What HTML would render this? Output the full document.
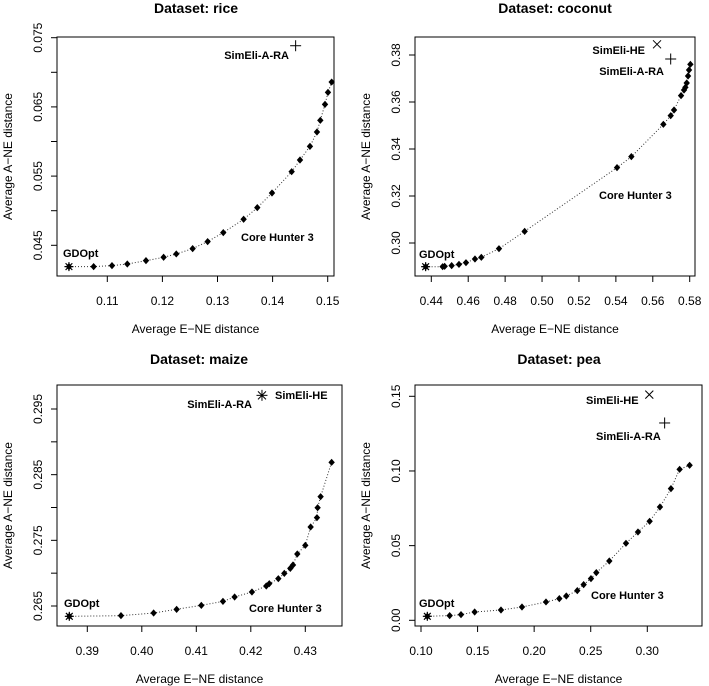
<!DOCTYPE html>
<html><head><meta charset="utf-8"><style>
html,body{margin:0;padding:0;background:#fff;}
svg{display:block;font-family:"Liberation Sans",Arial,sans-serif;}
</style></head><body>
<svg id="chart" width="709" height="686" viewBox="0 0 709 686" xmlns="http://www.w3.org/2000/svg"></svg>
<script>
// ---- data ----
const riceX=[0.10304,0.10752,0.11085,0.11363,0.11702,0.12022,0.12252,0.12549,0.12821,0.13105,0.13474,0.13722,0.13989,0.14346,0.14497,0.14678,0.14805,0.14866,0.14951,0.15005,0.15072];
const riceY=[0.04192,0.04192,0.04206,0.04230,0.04278,0.04327,0.04375,0.04452,0.04553,0.04683,0.04876,0.05044,0.05256,0.05564,0.05733,0.05930,0.06137,0.06306,0.06537,0.06710,0.06859];
const riceSimARA=[0.14418,0.07384];
const riceXTicks=[0.11,0.12,0.13,0.14,0.15];
const riceYTicks=[0.045,0.05,0.055,0.06,0.065,0.07,0.075];
const riceYLabels=["0.045","","0.055","","0.065","","0.075"];

const cocoX=[0.43693,0.44614,0.44723,0.45102,0.45499,0.45879,0.46366,0.46710,0.47667,0.49058,0.54062,0.54839,0.56573,0.56971,0.57151,0.57531,0.57693,0.57766,0.57838,0.57910,0.57964,0.58037];
const cocoY=[0.28993,0.28993,0.29007,0.29036,0.29092,0.29163,0.29319,0.29390,0.29759,0.30496,0.33206,0.33674,0.35050,0.35418,0.35660,0.36270,0.36511,0.36624,0.36809,0.37106,0.37362,0.37603];
const cocoSimHE=[0.5623,0.38454];
const cocoSimARA=[0.5697,0.37830];
const cocoXTicks=[0.44,0.46,0.48,0.50,0.52,0.54,0.56,0.58];
const cocoYTicks=[0.30,0.32,0.34,0.36,0.38];
const cocoYLabels=["0.30","0.32","0.34","0.36","0.38"];

const maizeX=[0.38670,0.39618,0.40217,0.40639,0.41092,0.41489,0.41703,0.42021,0.42284,0.42339,0.42505,0.42615,0.42725,0.42774,0.42853,0.43000,0.43098,0.43214,0.43226,0.43281,0.43483];
const maizeY=[0.26343,0.26353,0.26393,0.26449,0.26510,0.26570,0.26637,0.26713,0.26805,0.26840,0.26916,0.26997,0.27073,0.27124,0.27292,0.27424,0.27703,0.27845,0.27997,0.28165,0.28688];
const maizeSimHE=[0.42205,0.29708];
const maizeSimARA=[0.42205,0.29708];
const maizeXTicks=[0.39,0.40,0.41,0.42,0.43];
const maizeYTicks=[0.265,0.27,0.275,0.28,0.285,0.29,0.295];
const maizeYLabels=["0.265","","0.275","","0.285","","0.295"];

const peaX=[0.1056,0.12533,0.13535,0.14742,0.17069,0.18925,0.21046,0.22224,0.22842,0.23814,0.24374,0.25022,0.25493,0.26642,0.28115,0.29175,0.30206,0.31119,0.32091,0.32857,0.33740];
const peaY=[0.00268,0.00313,0.00380,0.00558,0.00692,0.00893,0.01228,0.01451,0.01629,0.01987,0.02388,0.02790,0.03192,0.03973,0.05156,0.05915,0.06629,0.07589,0.08817,0.10110,0.10379];
const peaSimHE=[0.30177,0.15112];
const peaSimARA=[0.31532,0.13214];
const peaXTicks=[0.10,0.15,0.20,0.25,0.30];
const peaYTicks=[0.00,0.05,0.10,0.15];
const peaYLabels=["0.00","0.05","0.10","0.15"];

const NS="http://www.w3.org/2000/svg";
const svg=document.getElementById('chart');
function mk(tag,attrs,parent){const e=document.createElementNS(NS,tag);for(const k in attrs)e.setAttribute(k,attrs[k]);(parent||svg).appendChild(e);return e;}
function txt(parent,x,y,s,opt){const t=mk('text',Object.assign({x:x,y:y,'font-size':12,fill:'#000'},opt||{}),parent);t.textContent=s;return t;}

function panel(c){
  const g=mk('g',{});
  
  
  const sx=v=>c.px0+(v-c.vx0)/(c.vx1-c.vx0)*(c.px1-c.px0);
  const sy=v=>c.py0+(v-c.vy0)/(c.vy1-c.vy0)*(c.py1-c.py0);
  const box=mk('rect',{x:c.bl,y:c.bt,width:c.br-c.bl,height:c.bb-c.bt,fill:'none',stroke:'#000','stroke-width':1},g);
  
  
  const t=txt(g,c.tx,c.ty,'Dataset: '+c.name,{'font-size':14,'font-weight':'bold','text-anchor':'middle'});
  
  
  // x axis
  const xa=mk('g',{},g);
  
  
  mk('line',{x1:sx(c.xt[0]),x2:sx(c.xt[c.xt.length-1]),y1:c.bb,y2:c.bb,stroke:'#000'},xa);
  c.xt.forEach((v,i)=>{
    const x=sx(v);
    mk('line',{x1:x,x2:x,y1:c.bb,y2:c.bb+6,stroke:'#000'},xa);
    const l=txt(xa,x,c.bb+29,v.toFixed(c.xd),{'text-anchor':'middle'});
    
    
  });
  const xt=txt(g,(c.bl+c.br)/2,c.bb+57,'Average E\u2212NE distance',{'text-anchor':'middle'});
  
  
  // y axis
  const ya=mk('g',{},g);
  
  
  mk('line',{y1:sy(c.yt[0]),y2:sy(c.yt[c.yt.length-1]),x1:c.bl,x2:c.bl,stroke:'#000'},ya);
  c.yt.forEach((v,i)=>{
    const y=sy(v);
    mk('line',{x1:c.bl-6,x2:c.bl,y1:y,y2:y,stroke:'#000'},ya);
    if(c.yl[i]){
      const l=txt(ya,0,0,c.yl[i],{'text-anchor':'middle',transform:`translate(${c.bl-15},${y}) rotate(-90)`});
      
      
    }
  });
  const yt=txt(g,0,0,'Average A\u2212NE distance',{'text-anchor':'middle',transform:`translate(${c.bl-45},${(c.bt+c.bb)/2}) rotate(-90)`});
  
  
  // line
  const pts=c.X.map((v,i)=>sx(v).toFixed(1)+','+sy(c.Y[i]).toFixed(1)).join(' ');
  const pl=mk('polyline',{points:pts,fill:'none',stroke:'#333','stroke-width':1,'stroke-dasharray':'1,2'},g);
  
  
  c.X.forEach((v,i)=>{
    const x=sx(v),y=sy(c.Y[i]);
    const d=mk('polygon',{points:`${x},${y-3.6} ${x+3.2},${y} ${x},${y+3.6} ${x-3.2},${y}`,fill:'#000'},g);
    
    
  });
  // GDOpt star
  {const x=sx(c.X[0]),y=sy(c.Y[0]),r=4.5;
   const s=mk('g',{stroke:'#000','stroke-width':1.2},g);
   
   
   mk('line',{x1:x-r,x2:x+r,y1:y,y2:y},s);mk('line',{x1:x,x2:x,y1:y-r,y2:y+r},s);
   mk('line',{x1:x-r*.75,x2:x+r*.75,y1:y-r*.75,y2:y+r*.75},s);mk('line',{x1:x-r*.75,x2:x+r*.75,y1:y+r*.75,y2:y-r*.75},s);}
  if(c.he){const x=sx(c.he[0]),y=sy(c.he[1]),r=4;
   const s=mk('g',{stroke:'#000','stroke-width':1},g);
   
   
   mk('line',{x1:x-r,x2:x+r,y1:y-r,y2:y+r},s);mk('line',{x1:x-r,x2:x+r,y1:y+r,y2:y-r},s);}
  if(c.ara){const x=sx(c.ara[0]),y=sy(c.ara[1]),r=5.5;
   const s=mk('g',{stroke:'#000','stroke-width':1},g);
   
   
   mk('line',{x1:x-r,x2:x+r,y1:y,y2:y},s);mk('line',{x1:x,x2:x,y1:y-r,y2:y+r},s);}
  c.labels.forEach(L=>{
    const l=txt(g,L[1],L[2],L[0],{'font-size':11,'font-weight':'bold','text-anchor':L[3]});
    
    
  });
}

panel({name:'rice',X:riceX,Y:riceY,ara:riceSimARA,xt:riceXTicks,yt:riceYTicks,yl:riceYLabels,xd:2,
  bl:57,br:334,bt:37,bb:276,px0:107.3,px1:327.7,vx0:0.11,vx1:0.15,py0:245.3,py1:37.7,vy0:0.045,vy1:0.075,tx:196,ty:13,
  labels:[['SimEli-A-RA',289,59,'end'],['GDOpt',63,257,'start'],['Core Hunter 3',241,241,'start']]});
panel({name:'coconut',X:cocoX,Y:cocoY,he:cocoSimHE,ara:cocoSimARA,xt:cocoXTicks,yt:cocoYTicks,yl:cocoYLabels,xd:2,
  bl:415,br:695,bt:37,bb:276,px0:431.3,px1:689.7,vx0:0.44,vx1:0.58,py0:243,py1:55,vy0:0.30,vy1:0.38,tx:555,ty:13,
  labels:[['SimEli-HE',645,54,'end'],['SimEli-A-RA',664,75,'end'],['Core Hunter 3',599,199,'start'],['GDOpt',419,258,'start']]});
panel({name:'maize',X:maizeX,Y:maizeY,he:maizeSimHE,ara:maizeSimARA,xt:maizeXTicks,yt:maizeYTicks,yl:maizeYLabels,xd:2,
  bl:57,br:342,bt:385,bb:626,px0:87.3,px1:305.3,vx0:0.39,vx1:0.43,py0:606,py1:409,vy0:0.265,vy1:0.295,tx:199,ty:364,
  labels:[['SimEli-A-RA',252,408,'end'],['SimEli-HE',275,399,'start'],['Core Hunter 3',249,612,'start'],['GDOpt',64,607,'start']]});
panel({name:'pea',X:peaX,Y:peaY,he:peaSimHE,ara:peaSimARA,xt:peaXTicks,yt:peaYTicks,yl:peaYLabels,xd:2,
  bl:415,br:702,bt:385,bb:626,px0:421,px1:647.3,vx0:0.10,vx1:0.30,py0:620.3,py1:396.3,vy0:0.0,vy1:0.15,tx:559,ty:364,
  labels:[['SimEli-HE',586,404,'start'],['SimEli-A-RA',596,440,'start'],['Core Hunter 3',591,599,'start'],['GDOpt',419,607,'start']]});
</script>
</body></html>
